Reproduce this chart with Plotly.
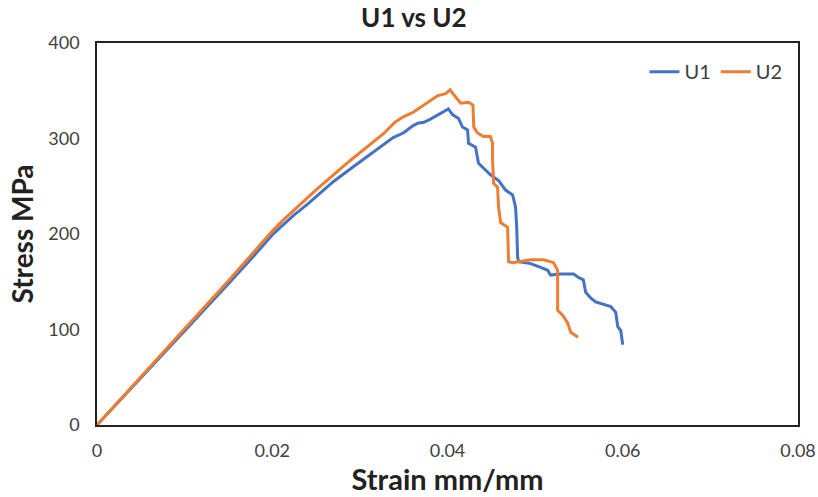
import plotly.graph_objects as go

u1_strain = [0, 0.005, 0.010, 0.015, 0.0175, 0.020, 0.0213, 0.0225, 0.0240, 0.0251, 0.0270, 0.0289,
             0.0305, 0.0320, 0.0338, 0.0350, 0.0360, 0.0366, 0.0373, 0.0380, 0.0390, 0.0401,
             0.04057, 0.04126, 0.04171, 0.04229, 0.0424, 0.0432, 0.04354, 0.04411, 0.04491, 0.04583,
             0.04663, 0.04743, 0.04777, 0.0479, 0.0480, 0.04811, 0.04949, 0.05063, 0.05143, 0.05177,
             0.05291, 0.0544, 0.05486, 0.0555, 0.05577, 0.05634, 0.0569, 0.05863, 0.0592, 0.05943,
             0.05977, 0.0600]
u1_stress = [0, 49, 99, 148, 173, 199, 210, 220, 231, 240, 255, 268,
             279, 289, 301, 306, 313, 316, 317, 320, 325, 331,
             325, 321, 312, 309, 295, 291, 274, 269, 262, 256,
             246, 241, 228, 207, 176, 171, 169, 165, 162, 157,
             158, 158, 155, 152, 139, 133, 129, 124, 118, 103,
             99, 84]

u2_strain = [0, 0.005, 0.010, 0.015, 0.0175, 0.020, 0.0213, 0.0251, 0.0289, 0.0327, 0.0340, 0.0350,
             0.0360, 0.0373, 0.0389, 0.0398, 0.0403, 0.0407, 0.0411, 0.0415, 0.0424, 0.0429,
             0.0430, 0.0434, 0.0441, 0.0449, 0.04514, 0.04514, 0.04526, 0.04571, 0.04583, 0.04606,
             0.04686, 0.04697, 0.04743, 0.04834, 0.04949, 0.05097, 0.05211, 0.05257, 0.05257,
             0.05314, 0.05371, 0.05406, 0.0549]
u2_stress = [0, 50, 100, 151, 177, 203, 215, 247, 277, 305, 317, 323,
             327, 335, 345, 347, 351, 346, 342, 337, 338, 335,
             312, 306, 302, 302, 295, 278, 253, 249, 228, 212,
             207, 171, 170, 171, 173, 173, 170, 162, 120,
             115, 107, 97, 92]

x_ticks = [0, 0.02, 0.04, 0.06, 0.08]
x_labels = ["0", "0.02", "0.04", "0.06", "0.08"]
y_ticks = [0, 100, 200, 300, 400]

FONT = "Lato, Open Sans, sans-serif"

fig = go.Figure()
fig.add_trace(go.Scatter(x=u1_strain, y=u1_stress, mode="lines", name="U1",
                         line=dict(color="#4472C4", width=3)))
fig.add_trace(go.Scatter(x=u2_strain, y=u2_stress, mode="lines", name="U2",
                         line=dict(color="#ED7D31", width=3)))

fig.update_layout(
    width=818, height=497,
    margin=dict(l=97, r=20, t=43, b=72),
    paper_bgcolor="white", plot_bgcolor="white",
    font=dict(family=FONT, color="#404040", size=18),
    title=dict(text="<b>U1 vs U2</b>", x=0.506, xanchor="center", y=0.963, yanchor="middle",
               font=dict(family=FONT, size=26, color="#222222")),
    showlegend=True,
    legend=dict(orientation="h", x=0.985, xanchor="right", y=0.925, yanchor="middle",
                bgcolor="rgba(0,0,0,0)", font=dict(family=FONT, size=20, color="#404040"),
                itemwidth=30),
    xaxis=dict(range=[0, 0.08], tickvals=x_ticks, ticktext=x_labels, showgrid=False,
               zeroline=False, showline=True, linecolor="#222222", linewidth=1.5, mirror=True,
               ticks="", ticklabelstandoff=9, automargin=False,
               title=dict(text="<b>Strain mm/mm</b>", standoff=6,
                          font=dict(family=FONT, size=29, color="#222222"))),
    yaxis=dict(range=[0, 400], tickvals=y_ticks, showgrid=False, zeroline=False,
               showline=True, linecolor="#222222", linewidth=1.5, mirror=True,
               ticks="", ticklabelstandoff=12, automargin=False,
               title=dict(text="<b>Stress MPa</b>", standoff=7,
                          font=dict(family=FONT, size=28, color="#222222"))),
)

fig.write_html("out.html")
